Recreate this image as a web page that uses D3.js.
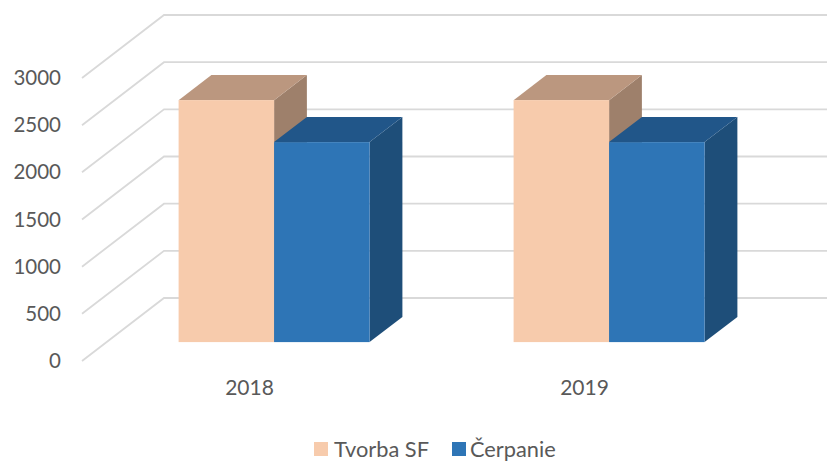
<!DOCTYPE html>
<html>
<head>
<meta charset="utf-8">
<script src="https://d3js.org/d3.v7.min.js"></script>
<style>
	html, body { margin: 0; padding: 0; background: #fff; }
	text { font-family: Lato, "Open Sans", sans-serif; fill: #595959; }
	.tick line, .domain { display: none; }
</style>
</head>
<body>
<svg id="chart" width="827" height="461"></svg>
<script>
var years = ["2018", "2019"];
var seriesNames = ["Tvorba SF", "Čerpanie"];
var tvorba = [2565, 2565];
var cerpanie = [2120, 2120];
var yTicks = [0, 500, 1000, 1500, 2000, 2500, 3000];

var faceColors = ["#F7CBAC", "#2E75B6"],
	topColors = ["#BB977F", "#215689"],
	sideColors = ["#9E806B", "#1E4E79"];

var svg = d3.select("#chart");

var xScale = d3.scaleBand().domain(years).range([82, 752]);
var yScale = d3.scaleLinear().domain([0, 3000]).range([361, 78]);
var barScale = d3.scaleBand().domain(seriesNames).range([-95.5, 95.5]);

/* depth of the 3d box: 0 = front edge of floor, 1 = back wall */
var depthX = d3.scaleLinear().domain([0, 1]).range([0, 82]),
	depthY = d3.scaleLinear().domain([0, 1]).range([0, -63]);

var barFront = 0.3,
	barBack = 0.7;

var polygon = function(pts) { return pts.map(function(p) { return p.join(","); }).join(" "); };

/* gridlines, floor side then back wall */
svg.append("g").selectAll("polyline")
	.data(yTicks)
	.enter().append("polyline")
		.attr("fill", "none")
		.attr("stroke", "#D9D9D9")
		.attr("stroke-width", 1.8)
		.attr("points", function(d) {
			var y = yScale(d);
			return polygon([
				[xScale.range()[0], y],
				[xScale.range()[0] + depthX(1), y + depthY(1)],
				[xScale.range()[1] + depthX(1), y + depthY(1)]
			]);
		});

/* bars, peach first so the blue box sits in front of its side */
var rows = [];
years.forEach(function(year, i) {
	rows.push({ year: year, s: 0, value: tvorba[i] });
	rows.push({ year: year, s: 1, value: cerpanie[i] });
});

var bars = svg.append("g").selectAll("g")
	.data(rows)
	.enter().append("g");

function corners(d) {
	var cx = xScale(d.year) + xScale.bandwidth() / 2;
	var x0 = cx + barScale(seriesNames[d.s]),
		x1 = x0 + barScale.bandwidth(),
		yTop = yScale(d.value),
		yBase = yScale(0);
	var fx = depthX(barFront), fy = depthY(barFront),
		bx = depthX(barBack), by = depthY(barBack);
	return { x0: x0 + fx, x1: x1 + fx, top: yTop + fy, base: yBase + fy,
		bx0: x0 + bx, bx1: x1 + bx, btop: yTop + by, bbase: yBase + by };
}

bars.append("polygon")
	.attr("fill", function(d) { return sideColors[d.s]; })
	.attr("points", function(d) {
		var c = corners(d);
		return polygon([[c.x1, c.top], [c.bx1, c.btop], [c.bx1, c.bbase], [c.x1, c.base]]);
	});

bars.append("polygon")
	.attr("fill", function(d) { return topColors[d.s]; })
	.attr("points", function(d) {
		var c = corners(d);
		return polygon([[c.x0, c.top], [c.bx0, c.btop], [c.bx1, c.btop], [c.x1, c.top]]);
	});

bars.append("rect")
	.attr("fill", function(d) { return faceColors[d.s]; })
	.attr("x", function(d) { return corners(d).x0; })
	.attr("y", function(d) { return corners(d).top; })
	.attr("width", barScale.bandwidth())
	.attr("height", function(d) { return corners(d).base - corners(d).top; });

/* axes */
svg.append("g")
	.attr("transform", "translate(82,0)")
	.call(d3.axisLeft(yScale).tickValues(yTicks).tickSize(0).tickPadding(21).tickFormat(d3.format("d")))
	.selectAll("text")
		.style("font-size", "20.5px");

svg.append("g")
	.attr("transform", "translate(0,361)")
	.call(d3.axisBottom(xScale).tickSize(0).tickPadding(19))
	.selectAll("text")
		.style("font-size", "21px");

/* legend */
var legendX = [314, 452],
	legendTextX = [20, 18];
var legend = svg.append("g").selectAll("g")
	.data(seriesNames)
	.enter().append("g")
		.attr("transform", function(d, i) { return "translate(" + legendX[i] + ",442)"; });

legend.append("rect")
	.attr("width", 14)
	.attr("height", 14)
	.attr("fill", function(d, i) { return faceColors[i]; });

legend.append("text")
	.attr("x", function(d, i) { return legendTextX[i]; })
	.attr("y", 14.5)
	.style("font-size", "21.8px")
	.text(function(d) { return d; });
</script>
</body>
</html>
